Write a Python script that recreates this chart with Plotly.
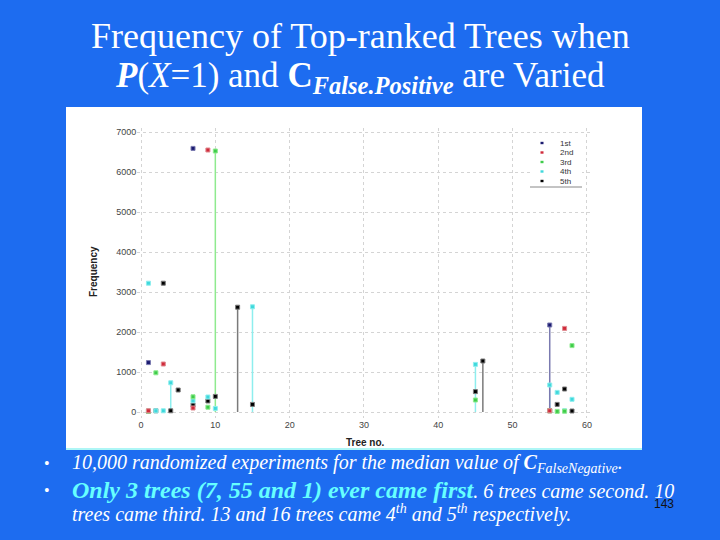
import plotly.graph_objects as go

# ---------------- data ----------------
series_names = ["1st", "2nd", "3rd", "4th", "5th"]
series_colors = ["#1b1b70", "#d02a3a", "#3fcc4a", "#3fd8dc", "#000000"]
stem_colors = ["#7a7ab0", "#e08a90", "#8fea8f", "#8eeeee", "#7a7a7a"]

trees_1st = [1, 7, 55]
freq_1st = [1235, 6590, 2175]
trees_2nd = [1, 3, 7, 9, 55, 57]
freq_2nd = [30, 1200, 100, 6550, 30, 2090]
trees_3rd = [1, 2, 7, 9, 10, 45, 55, 56, 57, 58]
freq_3rd = [20, 980, 380, 120, 6525, 300, 30, 15, 20, 1660]
trees_4th = [1, 2, 3, 4, 7, 9, 10, 15, 45, 55, 56, 57, 58]
freq_4th = [3220, 30, 30, 730, 280, 375, 90, 2630, 1190, 675, 490, 30, 317]
trees_5th = [1, 2, 3, 4, 5, 7, 9, 10, 13, 15, 45, 46, 55, 56, 57, 58]
freq_5th = [20, 30, 3220, 30, 550, 175, 275, 390, 2620, 190, 510, 1275, 30, 190, 575, 25]

stems_1st = [55]
stems_2nd = []
stems_3rd = [10]
stems_4th = [4, 15, 45, 55]
stems_5th = [13, 46]

x_ticks = [0, 10, 20, 30, 40, 50, 60]
y_ticks = [0, 1000, 2000, 3000, 4000, 5000, 6000, 7000]

all_trees = [trees_1st, trees_2nd, trees_3rd, trees_4th, trees_5th]
all_freq = [freq_1st, freq_2nd, freq_3rd, freq_4th, freq_5th]
all_stems = [stems_1st, stems_2nd, stems_3rd, stems_4th, stems_5th]

W, H = 720, 540
BLUE = "#1d6cf0"

def px(x):
    return x / W

def py(y):
    return 1 - y / H

fig = go.Figure()

# stems (drawn first, under markers)
for i in reversed(range(5)):
    xs, ys = [], []
    for t, v in zip(all_trees[i], all_freq[i]):
        if t in all_stems[i]:
            xs += [t, t, None]
            ys += [0, v, None]
    if xs:
        fig.add_trace(go.Scatter(x=xs, y=ys, mode="lines",
                                 line=dict(color=stem_colors[i], width=1.5),
                                 hoverinfo="skip", showlegend=False))

for i in reversed(range(5)):
    fig.add_trace(go.Scatter(x=all_trees[i], y=all_freq[i], mode="markers",
                             name=series_names[i],
                             marker=dict(symbol="square", size=4,
                                         color=series_colors[i],
                                         line=dict(width=1, color=stem_colors[i])),
                             showlegend=False))

shapes = []
shapes.append(dict(type="rect", xref="paper", yref="paper",
                   x0=px(66), x1=px(642), y0=py(449), y1=py(107),
                   fillcolor="white", line=dict(width=0), layer="below"))
shapes.append(dict(type="line", xref="paper", yref="paper",
                   x0=px(66), x1=px(642), y0=py(449), y1=py(449),
                   line=dict(color="#aef6f6", width=2), layer="below"))

annotations = []

def note(text, x, y, size, color, family, xanchor="center", **kw):
    annotations.append(dict(text=text, xref="paper", yref="paper",
                            x=px(x), y=py(y), xanchor=xanchor, yanchor="middle",
                            showarrow=False,
                            font=dict(family=family, size=size, color=color), **kw))

# manual legend (white box hides the gridlines behind it)
shapes.append(dict(type="rect", xref="paper", yref="paper",
                   x0=px(530), x1=px(582), y0=py(187), y1=py(135),
                   fillcolor="white", line=dict(width=0), layer="above"))
for k, name in enumerate(series_names):
    yy = 143 + k * 9.5
    shapes.append(dict(type="rect", xref="paper", yref="paper",
                       x0=px(542 - 1.5), x1=px(542 + 1.5),
                       y0=py(yy + 1.2), y1=py(yy - 1.2),
                       fillcolor=series_colors[k], line=dict(width=0), layer="above"))
    note(name, 558, yy, 8, "#333", "Liberation Sans", xanchor="left")
shapes.append(dict(type="line", xref="paper", yref="paper",
                   x0=px(530), x1=px(582), y0=py(187), y1=py(187),
                   line=dict(color="#888", width=1), layer="above"))

# axis titles
note("<b>Frequency</b>", 93, 272, 10, "#222", "Liberation Sans", textangle=-90)
note("<b>Tree no.</b>", 365, 442, 10, "#222", "Liberation Sans")

# slide title
serif = "Liberation Serif"
note("Frequency of Top-ranked Trees when", 360, 36, 36, "white", serif)
note("<b><i>P</i></b>(<i>X</i>=1) and <b>C</b><sub><b><i>False.Positive</i></b></sub> are Varied",
     360, 77, 35, "white", serif)

# bullets
note("•", 47, 463, 16, "white", serif)
note("<i>10,000 randomized experiments for the median value of </i><b><i>C</i></b><sub><i>FalseNegative</i></sub><i>.</i>",
     70, 463, 20, "white", serif, xanchor="left")
note("•", 47, 490, 16, "white", serif)
note("<b><i><span style='color:#66ffff;font-size:24px'>Only 3 trees (7, 55 and 1) ever came first</span></i></b><i>. 6 trees came second. 10</i>",
     70, 490, 20, "white", serif, xanchor="left")
note("<i>trees came third. 13 and 16 trees came 4<sup>th</sup> and 5<sup>th</sup> respectively.</i>",
     70, 513, 20, "white", serif, xanchor="left")
note("143", 664, 504, 12, "#111", "Liberation Sans")

fig.update_layout(
    width=W, height=H,
    margin=dict(l=0, r=0, t=0, b=0),
    paper_bgcolor=BLUE,
    plot_bgcolor="rgba(0,0,0,0)",
    showlegend=False,
    shapes=shapes,
    annotations=annotations,
    xaxis=dict(domain=[px(137.3), px(590.6)], range=[-0.5, 60.5],
               tickvals=x_ticks, ticks="", showline=False, zeroline=False,
               showgrid=True, gridcolor="#d4d4d4", griddash="dot", gridwidth=1,
               tickfont=dict(family="Liberation Sans", size=9, color="#444")),
    yaxis=dict(domain=[py(418), py(128)], range=[-150, 7100],
               tickvals=y_ticks, ticks="", showline=False, zeroline=False,
               showgrid=True, gridcolor="#d4d4d4", griddash="dot", gridwidth=1,
               tickfont=dict(family="Liberation Sans", size=9, color="#444")),
)

fig.write_html("out.html", config={"displayModeBar": False},
               post_script="document.body.style.margin='0';")
